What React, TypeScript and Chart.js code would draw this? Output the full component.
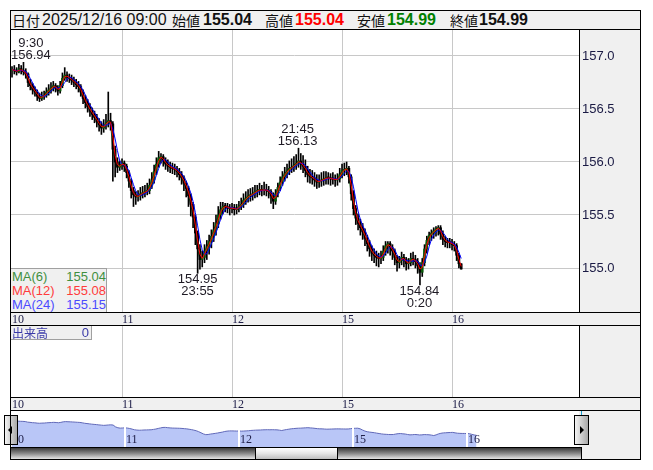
import React, { useEffect, useRef } from 'react';
import { Chart, registerables } from 'chart.js';
Chart.register(...registerables);

// ---------- data ----------
const dayLabels = ['10', '11', '12', '15', '16'];
const dayStartHours = [0, 24, 48, 72, 96]; // hours since 07:00 on the 10th (trading-day starts)
const barHours = 0.5; // each bar covers 30 minutes

const opens = [
  156.86,156.87,156.86,156.85,156.88,156.86,156.85,156.83,156.75,156.72,
  156.68,156.66,156.62,156.60,156.62,156.63,156.66,156.68,156.70,156.72,
  156.70,156.67,156.72,156.79,156.82,156.80,156.79,156.77,156.75,156.73,
  156.71,156.66,156.60,156.56,156.52,156.48,156.45,156.42,156.38,156.35,
  156.32,156.34,156.37,156.39,156.36,156.12,156.00,155.95,155.97,155.99,
  155.96,155.90,155.82,155.73,155.69,155.67,155.68,155.70,155.71,155.72,
  155.73,155.78,155.83,155.91,155.98,156.04,156.05,156.01,155.98,155.96,
  155.95,155.94,155.93,155.91,155.88,155.85,155.80,155.75,155.68,155.60,
  155.48,155.33,155.18,155.08,155.10,155.16,155.20,155.25,155.30,155.36,
  155.42,155.50,155.55,155.58,155.58,155.57,155.56,155.57,155.55,155.56,
  155.58,155.60,155.64,155.66,155.68,155.69,155.70,155.72,155.73,155.74,
  155.73,155.74,155.73,155.72,155.68,155.63,155.70,155.76,155.81,155.86,
  155.89,155.92,155.94,155.95,155.97,155.99,156.01,155.98,155.96,155.92,
  155.88,155.86,155.85,155.83,155.81,155.82,155.83,155.84,155.85,155.85,
  155.84,155.84,155.83,155.84,155.88,155.92,155.93,155.94,155.86,155.70,
  155.56,155.47,155.42,155.38,155.34,155.28,155.23,155.18,155.14,155.12,
  155.10,155.09,155.10,155.16,155.21,155.23,155.19,155.16,155.10,155.05,
  155.07,155.10,155.08,155.04,155.05,155.09,155.08,155.06,155.02,154.96,
  155.05,155.18,155.26,155.31,155.33,155.35,155.37,155.38,155.32,155.27,
  155.25,155.24,155.24,155.22,155.21,155.12,155.04
];
const highs = [
  156.90,156.91,156.89,156.92,156.91,156.94,156.88,156.84,156.78,156.74,
  156.71,156.68,156.65,156.66,156.67,156.70,156.73,156.75,156.76,156.74,
  156.72,156.76,156.84,156.89,156.85,156.83,156.82,156.80,156.78,156.76,
  156.73,156.68,156.63,156.59,156.55,156.51,156.48,156.45,156.41,156.38,
  156.40,156.45,156.66,156.46,156.38,156.15,156.04,156.01,156.03,156.01,
  155.98,155.92,155.84,155.76,155.72,155.73,155.76,155.77,155.78,155.80,
  155.84,155.90,155.97,156.04,156.10,156.08,156.07,156.04,156.02,156.00,
  155.99,155.98,155.96,155.94,155.91,155.87,155.82,155.77,155.70,155.62,
  155.50,155.35,155.22,155.16,155.22,155.26,155.31,155.36,155.43,155.50,
  155.58,155.62,155.62,155.61,155.61,155.60,155.61,155.60,155.60,155.63,
  155.66,155.70,155.72,155.74,155.75,155.76,155.78,155.78,155.80,155.78,
  155.81,155.79,155.77,155.74,155.71,155.74,155.80,155.86,155.91,155.95,
  155.98,156.01,156.03,156.05,156.07,156.13,156.08,156.06,156.02,155.96,
  155.93,155.92,155.90,155.88,155.88,155.90,155.91,155.91,155.90,155.89,
  155.90,155.88,155.89,155.94,155.98,155.99,156.00,155.96,155.88,155.73,
  155.59,155.51,155.46,155.42,155.37,155.31,155.26,155.21,155.18,155.16,
  155.14,155.16,155.21,155.25,155.25,155.25,155.22,155.18,155.12,155.11,
  155.15,155.13,155.10,155.09,155.14,155.15,155.12,155.09,155.05,155.09,
  155.22,155.30,155.34,155.36,155.38,155.39,155.40,155.40,155.35,155.30,
  155.28,155.28,155.27,155.25,155.23,155.14,155.04
];
const lows = [
  156.80,156.83,156.82,156.84,156.83,156.82,156.79,156.71,156.68,156.64,
  156.62,156.58,156.57,156.58,156.59,156.61,156.63,156.65,156.67,156.66,
  156.63,156.65,156.70,156.77,156.76,156.75,156.73,156.71,156.69,156.66,
  156.62,156.55,156.51,156.47,156.43,156.40,156.37,156.33,156.29,156.26,
  156.28,156.31,156.33,156.30,155.82,155.86,155.90,155.92,155.93,155.91,
  155.85,155.76,155.66,155.58,155.60,155.63,155.64,155.66,155.67,155.69,
  155.70,155.75,155.80,155.88,155.95,155.99,155.96,155.93,155.91,155.90,
  155.89,155.88,155.86,155.83,155.79,155.73,155.67,155.58,155.49,155.38,
  155.22,154.95,154.99,155.01,155.05,155.08,155.13,155.19,155.25,155.31,
  155.38,155.46,155.51,155.53,155.52,155.50,155.52,155.50,155.51,155.53,
  155.55,155.57,155.60,155.62,155.63,155.64,155.66,155.67,155.69,155.68,
  155.69,155.68,155.66,155.61,155.56,155.60,155.67,155.73,155.78,155.82,
  155.85,155.88,155.90,155.91,155.93,155.95,155.93,155.90,155.86,155.81,
  155.80,155.79,155.77,155.75,155.76,155.77,155.78,155.79,155.79,155.78,
  155.79,155.77,155.78,155.81,155.85,155.87,155.88,155.80,155.64,155.50,
  155.41,155.36,155.31,155.27,155.21,155.16,155.11,155.07,155.05,155.02,
  155.01,155.04,155.07,155.12,155.14,155.12,155.08,155.03,154.97,155.00,
  155.03,155.01,154.98,154.99,155.02,155.03,155.00,154.95,154.84,154.92,
  155.02,155.14,155.22,155.26,155.28,155.30,155.31,155.27,155.22,155.20,
  155.19,155.19,155.17,155.16,155.07,155.00,154.99
];
const closes = [
  156.87,156.86,156.85,156.88,156.86,156.85,156.83,156.75,156.72,156.68,
  156.66,156.62,156.60,156.62,156.63,156.66,156.68,156.70,156.72,156.70,
  156.67,156.72,156.79,156.82,156.80,156.79,156.77,156.75,156.73,156.71,
  156.66,156.60,156.56,156.52,156.48,156.45,156.42,156.38,156.35,156.32,
  156.34,156.37,156.39,156.36,156.12,156.00,155.95,155.97,155.99,155.96,
  155.90,155.82,155.73,155.69,155.67,155.68,155.70,155.71,155.72,155.73,
  155.78,155.83,155.91,155.98,156.04,156.05,156.01,155.98,155.96,155.95,
  155.94,155.93,155.91,155.88,155.85,155.80,155.75,155.68,155.60,155.48,
  155.33,155.18,155.08,155.10,155.16,155.20,155.25,155.30,155.36,155.42,
  155.50,155.55,155.58,155.58,155.57,155.56,155.57,155.55,155.56,155.58,
  155.60,155.64,155.66,155.68,155.69,155.70,155.72,155.73,155.74,155.73,
  155.74,155.73,155.72,155.68,155.63,155.70,155.76,155.81,155.86,155.89,
  155.92,155.94,155.95,155.97,155.99,156.01,155.98,155.96,155.92,155.88,
  155.86,155.85,155.83,155.81,155.82,155.83,155.84,155.85,155.85,155.84,
  155.84,155.83,155.84,155.88,155.92,155.93,155.94,155.86,155.70,155.56,
  155.47,155.42,155.38,155.34,155.28,155.23,155.18,155.14,155.12,155.10,
  155.09,155.10,155.16,155.21,155.23,155.19,155.16,155.10,155.05,155.07,
  155.10,155.08,155.04,155.05,155.09,155.08,155.06,155.02,154.96,155.05,
  155.18,155.26,155.31,155.33,155.35,155.37,155.38,155.32,155.27,155.25,
  155.24,155.24,155.22,155.21,155.12,155.04,154.99
];

const yTicks = [155.0, 155.5, 156.0, 156.5, 157.0];

const maNames = ['MA(6)', 'MA(12)', 'MA(24)'];
const maBarWindows = [1, 2, 4]; // 6/12/24 five-minute periods expressed in 30-minute bars
const maLastValues = ['155.04', '155.08', '155.15'];
const maColors = ['#2f8a2f', '#ff0000', '#0000ff'];
const maTextColors = ['#3f8f3f', '#ff3b3b', '#4b4bff'];

const headerDate = '2025/12/16 09:00';
const headerNames = ['始値', '高値', '安値', '終値'];
const headerValues = ['155.04', '155.04', '154.99', '154.99'];
const headerValueColors = ['#111111', '#ff0000', '#008000', '#111111'];

const annotationHours = [2.5, 40.92, 62.75, 89.33];
const annotationTimes = ['9:30', '23:55', '21:45', '0:20'];
const annotationPrices = [156.94, 154.95, 156.13, 154.84];
const annotationSides = ['high', 'low', 'high', 'low'];

const volumeName = '出来高';
const volumeValue = '0';

// ---------- helpers ----------
const hours = closes.map((_, i) => i * barHours);
function movingAverage(values: number[], w: number) {
  return values.map((_, i) => {
    const from = Math.max(0, i - w + 1);
    let s = 0;
    for (let k = from; k <= i; k++) s += values[k];
    return s / (i - from + 1);
  });
}
const NUM_FONT = '"Liberation Sans", Arial, sans-serif';
const CJK_FONT = '"Noto Sans CJK JP", "Noto Sans", sans-serif';
const GRID = '#c8c8c8';

const X_MIN = -0.44;
const X_MAX = 123.7;
const Y_MIN = 154.585;
const Y_MAX = 157.245;

function dayAxis(gridColor: string, showLabels: boolean) {
  return {
    type: 'linear' as const,
    min: X_MIN,
    max: X_MAX,
    offset: false,
    position: 'bottom' as const,
    afterBuildTicks: (s: any) => { s.ticks = dayStartHours.map(v => ({ value: v })); },
    afterFit: (s: any) => { s.height = 13; s.paddingLeft = 0; s.paddingRight = 0; },
    grid: {
      offset: false,
      drawTicks: false,
      color: (ctx: any) => (ctx.tick && ctx.tick.value === 0 ? 'rgba(0,0,0,0)' : gridColor),
    },
    border: { display: false },
    ticks: {
      display: showLabels,
      align: 'start' as const,
      padding: 1,
      autoSkip: false,
      maxRotation: 0,
      color: '#20204a',
      font: { family: '"Liberation Serif", serif', size: 12 },
      callback: (_v: any, i: number) => dayLabels[i],
    },
  };
}

const extremesPlugin = {
  id: 'extremes',
  afterDatasetsDraw(chart: any) {
    const { ctx, chartArea, scales } = chart;
    const x = scales.x, y = scales.y;
    ctx.save();
    ctx.font = '13px ' + NUM_FONT;
    ctx.fillStyle = '#1e1a24';
    ctx.textAlign = 'center';
    ctx.textBaseline = 'alphabetic';
    annotationHours.forEach((h, i) => {
      const price = annotationPrices[i].toFixed(2);
      const time = annotationTimes[i];
      const w = Math.max(ctx.measureText(price).width, ctx.measureText(time).width);
      let cx = x.getPixelForValue(h) - 2;
      if (cx - w / 2 < chartArea.left + 1) cx = chartArea.left + 1 + w / 2;
      const py = y.getPixelForValue(annotationPrices[i]);
      if (annotationSides[i] === 'high') {
        ctx.fillText(price, cx, py - 3);
        ctx.fillText(time, cx, py - 15);
      } else {
        ctx.fillText(price, cx, py + 10);
        ctx.fillText(time, cx, py + 22);
      }
    });
    ctx.restore();
  },
};

const navLabelsPlugin = {
  id: 'navLabels',
  afterDraw(chart: any) {
    const { ctx, chartArea, scales } = chart;
    ctx.save();
    ctx.font = '12px "Liberation Serif", serif';
    ctx.fillStyle = '#20204a';
    ctx.textAlign = 'left';
    ctx.textBaseline = 'alphabetic';
    dayStartHours.forEach((h, i) => {
      ctx.fillText(dayLabels[i], scales.x.getPixelForValue(h) + 1, chartArea.bottom - 4);
    });
    ctx.restore();
  },
};

export default function App() {
  const mainRef = useRef<HTMLCanvasElement>(null);
  const volRef = useRef<HTMLCanvasElement>(null);
  const navRef = useRef<HTMLCanvasElement>(null);

  useEffect(() => {
    const ma = maBarWindows.map(w => movingAverage(closes, w));
    const pts = (arr: number[]) => arr.map((v, i) => ({ x: hours[i], y: v }));
    const wicks = hours.map((h, i) => ({ x: h, y: [lows[i], highs[i]] }));
    const bodies = hours.map((h, i) => ({ x: h, y: [Math.min(opens[i], closes[i]), Math.max(opens[i], closes[i])] }));
    const bodyColors = hours.map((_, i) => (closes[i] > opens[i] ? '#0a5a0a' : '#000000'));

    const lineDs = (label: string, data: any[], color: string, order: number) => ({
      type: 'line' as const, label, data, borderColor: color, borderWidth: 1,
      pointRadius: 0, tension: 0, order, fill: false,
    });

    const main = new Chart(mainRef.current!, {
      type: 'line',
      data: {
        datasets: [
          lineDs(maNames[1], pts(ma[1]), maColors[1], 0),
          lineDs(maNames[2], pts(ma[2]), maColors[2], 1),
          { type: 'bar', label: 'body', data: bodies as any, backgroundColor: bodyColors, barThickness: 2, grouped: false, minBarLength: 1, order: 2 } as any,
          { type: 'bar', label: 'wick', data: wicks as any, backgroundColor: '#000000', barThickness: 1, grouped: false, order: 3 } as any,
          lineDs(maNames[0], pts(ma[0]), maColors[0], 4),
        ],
      },
      options: {
        animation: false,
        responsive: false,
        maintainAspectRatio: false,
        events: [],
        layout: { padding: 0 },
        plugins: { legend: { display: false }, tooltip: { enabled: false } },
        scales: {
          x: dayAxis(GRID, true) as any,
          y: {
            type: 'linear',
            position: 'right',
            min: Y_MIN,
            max: Y_MAX,
            afterBuildTicks: (s: any) => { s.ticks = yTicks.map(v => ({ value: v })); },
            afterFit: (s: any) => { s.width = 61; s.paddingTop = 0; s.paddingBottom = 0; },
            grid: { color: GRID, drawTicks: false },
            border: { display: false },
            ticks: {
              padding: 3,
              color: '#1a1a44',
              font: { family: NUM_FONT, size: 13 },
              callback: (v: any) => Number(v).toFixed(1),
            },
          } as any,
        },
      },
      plugins: [extremesPlugin],
    });

    const vol = new Chart(volRef.current!, {
      type: 'line',
      data: { datasets: [] },
      options: {
        animation: false,
        responsive: false,
        maintainAspectRatio: false,
        events: [],
        layout: { padding: { right: 61 } },
        plugins: { legend: { display: false }, tooltip: { enabled: false } },
        scales: {
          x: dayAxis(GRID, true) as any,
          y: { display: false, min: 0, max: 1 },
        },
      },
    });

    const nav = new Chart(navRef.current!, {
      type: 'line',
      data: {
        datasets: [{
          data: pts(closes), borderColor: '#6068b8', borderWidth: 1, pointRadius: 0,
          fill: 'start', backgroundColor: '#b9c6f7', tension: 0,
        }],
      },
      options: {
        animation: false,
        responsive: false,
        maintainAspectRatio: false,
        events: [],
        layout: { padding: 0 },
        plugins: { legend: { display: false }, tooltip: { enabled: false } },
        scales: {
          x: {
            type: 'linear', min: -0.21, max: 119.79, offset: false,
            afterBuildTicks: (s: any) => { s.ticks = dayStartHours.map(v => ({ value: v })); },
            afterFit: (s: any) => { s.height = 0; s.paddingLeft = 0; s.paddingRight = 0; },
            grid: { color: '#ffffff', lineWidth: 2, drawTicks: false, offset: false, z: 1 },
            border: { display: false },
            ticks: { display: false },
          } as any,
          y: { display: false, min: 153.43, max: 158.37 },
        },
      },
      plugins: [navLabelsPlugin],
    });

    return () => { main.destroy(); vol.destroy(); nav.destroy(); };
  }, []);

  const abs = (l: number, t: number, w: number, h: number, extra: React.CSSProperties = {}): React.CSSProperties => ({
    position: 'absolute', left: l, top: t, width: w, height: h, boxSizing: 'border-box', ...extra,
  });
  const line = (l: number, t: number, w: number, h: number, c = '#000') => <div style={abs(l, t, w, h, { background: c })} />;

  const headerXs = [172, 265, 357, 450];
  const valueXs = [203, 295, 387, 479];

  return (
    <div style={{ position: 'absolute', left: 0, top: 0, width: 653, height: 470, background: '#fff', overflow: 'hidden' }}>
      {/* backgrounds */}
      <div style={abs(10, 10, 631, 20, { background: '#f0f0f0' })} />
      <div style={abs(579, 29, 62, 431, { background: '#f0f0f0' })} />
      <div style={abs(10, 312, 631, 14, { background: '#f0f0f0' })} />
      <div style={abs(10, 397, 631, 14, { background: '#f0f0f0' })} />

      {/* charts */}
      <canvas ref={mainRef} width={630} height={295} style={abs(10, 30, 630, 295)} />
      <canvas ref={volRef} width={630} height={85} style={abs(10, 325, 630, 85)} />
      <canvas ref={navRef} width={570} height={37} style={abs(10, 410, 570, 37)} />

      {/* header text */}
      <div style={abs(12, 11, 30, 18, { font: '14px ' + CJK_FONT, lineHeight: '18px', color: '#111' })}>日付</div>
      <div style={abs(42, 11, 130, 18, { font: '16px ' + NUM_FONT, lineHeight: '18px', color: '#111', whiteSpace: 'nowrap' })}>{headerDate}</div>
      {headerNames.map((n, i) => (
        <React.Fragment key={n}>
          <div style={abs(headerXs[i], 11, 30, 18, { font: '14px ' + CJK_FONT, lineHeight: '18px', color: '#111' })}>{n}</div>
          <div style={abs(valueXs[i], 11, 60, 18, { font: 'bold 16px ' + NUM_FONT, lineHeight: '18px', color: headerValueColors[i] })}>{headerValues[i]}</div>
        </React.Fragment>
      ))}

      {/* MA legend */}
      <div style={abs(10, 268, 97, 45, { background: '#f0f0f0', border: '1px solid #a0a0a0' })}>
        {maNames.map((n, i) => (
          <div key={n} style={{ position: 'absolute', left: 1, top: i * 14, width: 94, height: 14, font: '13px ' + NUM_FONT, lineHeight: '15px', color: maTextColors[i] }}>
            <span style={{ position: 'absolute', left: 0 }}>{n}</span>
            <span style={{ position: 'absolute', right: 0 }}>{maLastValues[i]}</span>
          </div>
        ))}
      </div>

      {/* volume label */}
      <div style={abs(10, 325, 82, 15, { background: '#f0f0f0', border: '1px solid #a0a0a0', color: '#3a3aa8' })}>
        <span style={{ position: 'absolute', left: 1, top: -1, font: '12px ' + CJK_FONT, lineHeight: '15px' }}>{volumeName}</span>
        <span style={{ position: 'absolute', right: 2, top: -1, font: '13px ' + NUM_FONT, lineHeight: '15px' }}>{volumeValue}</span>
      </div>

      {/* frame lines */}
      {line(10, 29, 631, 1)}
      {line(579, 29, 1, 283)}
      {line(579, 325, 1, 72)}
      {line(10, 312, 631, 1)}
      {line(10, 325, 631, 1)}
      {line(10, 397, 631, 1)}
      {line(10, 410, 631, 1)}
      {line(10, 411, 1, 4, '#19a0d0')}
      {line(581, 411, 1, 4, '#19a0d0')}

      {/* scrollbar */}
      <div style={abs(10, 447, 572, 13, { border: '1px solid #000', background: 'linear-gradient(to bottom, #3a3a3a 0%, #8a8a8a 50%, #e6e6e6 100%)' })} />
      <div style={abs(255, 447, 83, 13, { border: '1px solid #000', background: 'linear-gradient(to bottom, #ffffff 0%, #e4e4e4 50%, #bdbdbd 100%)' })} />

      {/* navigator handles */}
      <div style={abs(4, 415, 14, 30, { border: '1px solid #000', background: 'linear-gradient(to right, #f4f4f4, #a8a8a8)' })}>
        <div style={{ position: 'absolute', left: 3, top: 10, width: 0, height: 0, borderTop: '4px solid transparent', borderBottom: '4px solid transparent', borderRight: '4px solid #000' }} />
      </div>
      <div style={abs(574, 415, 15, 30, { border: '1px solid #000', background: 'linear-gradient(to right, #f4f4f4, #a8a8a8)' })}>
        <div style={{ position: 'absolute', left: 5, top: 10, width: 0, height: 0, borderTop: '4px solid transparent', borderBottom: '4px solid transparent', borderLeft: '4px solid #000' }} />
      </div>

      {/* outer border */}
      <div style={abs(10, 10, 631, 450, { border: '1px solid #000' })} />
    </div>
  );
}
